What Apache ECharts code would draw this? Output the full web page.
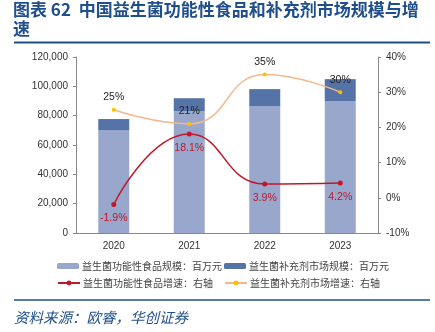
<!DOCTYPE html>
<html><head><meta charset="utf-8">
<script src="https://cdn.jsdelivr.net/npm/echarts@6/dist/echarts.min.js"></script>
<style>html,body{margin:0;padding:0;background:#fff}#c{width:435px;height:332px}</style>
</head><body><div id="c"></div>
<script>
var categories = ['2020', '2021', '2022', '2023'];
var foodSize = [70200, 83000, 86300, 90000];
var supplementSize = [7500, 8900, 11800, 14900];
var foodGrowth = [-1.9, 18.1, 3.9, 4.2];
var supplementGrowth = [25, 21, 35, 30];
var seriesNames = ['益生菌功能性食品规模：百万元', '益生菌补充剂市场规模：百万元', '益生菌功能性食品增速：右轴', '益生菌补充剂市场增速：右轴'];

var chart = echarts.init(document.getElementById('c'), null, {renderer: 'canvas'});
var blue = '#1F4E8C';
var red = '#C0182A';
var axisFont = {fontFamily: 'Liberation Sans', fontSize: 10, color: '#333'};
function legend(name, left, top) {
  return {data: [name], left: left, top: top, itemWidth: 22, itemHeight: 6, itemGap: 0, padding: 0,
    textStyle: {fontFamily: 'Noto Sans CJK SC', fontSize: 10, color: '#444', padding: [0, 0, 0, -2]}};
}
chart.setOption({
  animation: false,
  title: {text: '图表 62  中国益生菌功能性食品和补充剂市场规模与增\n速', left: 13, top: 0, padding: 0,
    textStyle: {fontFamily: 'Noto Sans CJK SC', fontWeight: 'bold', fontSize: 17, color: blue, lineHeight: 19}},
  graphic: [
    {type: 'line', shape: {x1: 14, y1: 42.5, x2: 430, y2: 42.5}, style: {stroke: blue, lineWidth: 2}},
    {type: 'line', shape: {x1: 14, y1: 300, x2: 430, y2: 300}, style: {stroke: blue, lineWidth: 1.5}},
    {type: 'text', left: 14, top: 310, style: {text: '资料来源：欧睿，华创证券', fill: blue,
      font: 'italic 14.5px "Noto Sans CJK SC"'}}
  ],
  legend: [legend(seriesNames[0], 57, 261), legend(seriesNames[1], 224, 261),
           legend(seriesNames[2], 57, 278), legend(seriesNames[3], 224, 278)],
  grid: {left: 76, right: 57, top: 57, bottom: 99},
  xAxis: {type: 'category', data: categories,
    axisLine: {lineStyle: {color: '#888'}}, axisTick: {length: 4, lineStyle: {color: '#888'}},
    axisLabel: Object.assign({margin: 8}, axisFont)},
  yAxis: [
    {type: 'value', min: 0, max: 120000, interval: 20000, splitLine: {show: false},
      axisLine: {show: true, lineStyle: {color: '#888'}}, axisTick: {show: true, length: 3, lineStyle: {color: '#888'}},
      axisLabel: Object.assign({formatter: function (v) { return v.toLocaleString('en-US'); }}, axisFont)},
    {type: 'value', min: -10, max: 40, interval: 10, splitLine: {show: false},
      axisLine: {show: true, lineStyle: {color: '#888'}}, axisTick: {show: true, length: 3, lineStyle: {color: '#888'}},
      axisLabel: Object.assign({formatter: '{value}%'}, axisFont)}
  ],
  series: [
    {name: seriesNames[0], type: 'bar', stack: 's', data: foodSize, barWidth: 31, itemStyle: {color: '#98A7CB'}},
    {name: seriesNames[1], type: 'bar', stack: 's', data: supplementSize, barWidth: 31, itemStyle: {color: '#5673A8'}},
    {name: seriesNames[2], type: 'line', yAxisIndex: 1, data: foodGrowth, smooth: true, symbol: 'circle', symbolSize: 5,
      lineStyle: {color: red, width: 1.5}, itemStyle: {color: red},
      label: {show: true, position: 'bottom', distance: 6, formatter: '{c}%', fontFamily: 'Liberation Sans', fontSize: 10.5, color: red}},
    {name: seriesNames[3], type: 'line', yAxisIndex: 1, data: supplementGrowth, smooth: true, symbol: 'circle', symbolSize: 4,
      lineStyle: {color: '#F5B88C', width: 1.5}, itemStyle: {color: '#FFC000'},
      label: {show: true, position: 'top', distance: 5, formatter: '{c}%', fontFamily: 'Liberation Sans', fontSize: 10.5, color: '#222'}}
  ]
});
</script></body></html>
